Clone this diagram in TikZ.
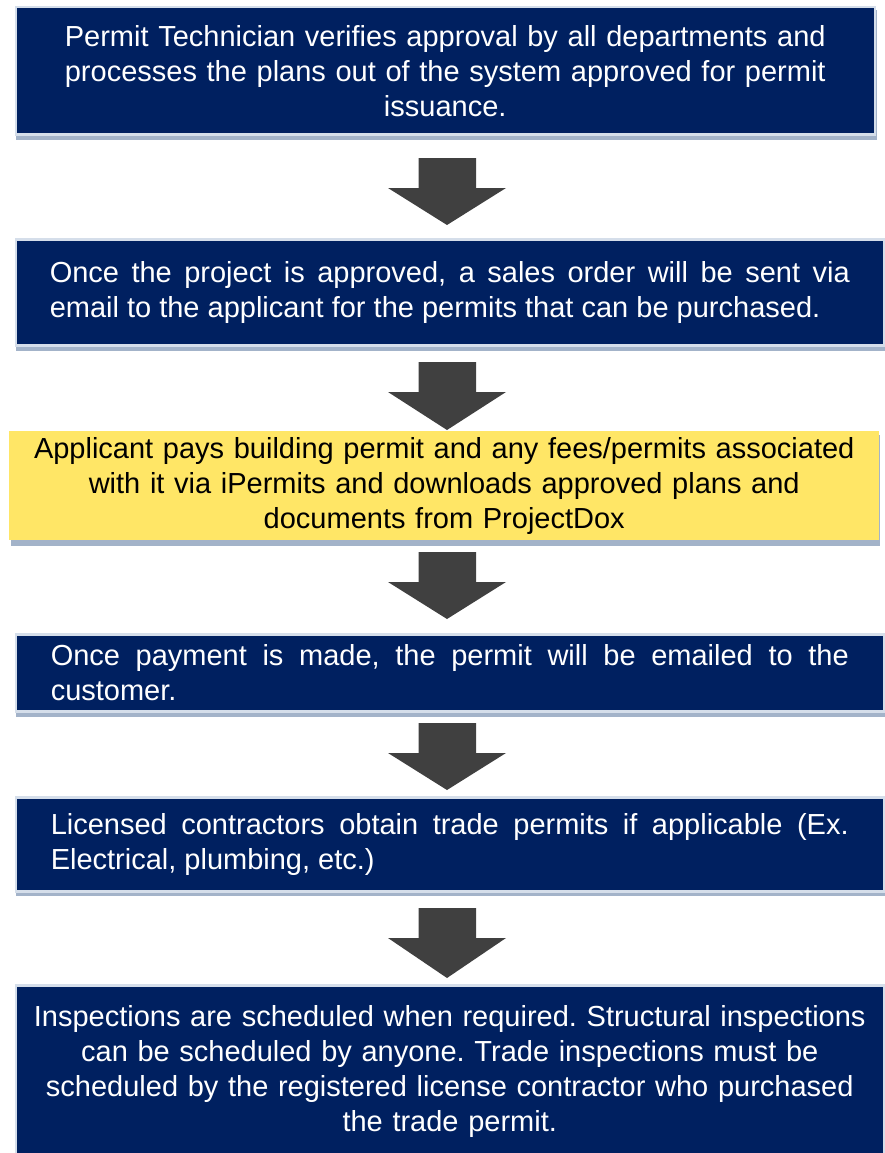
\documentclass[tikz,border=0pt]{standalone}
\usepackage{fontspec}
\setmainfont{Liberation Sans}
\usetikzlibrary{calc}
\definecolor{navy}{HTML}{002060}
\definecolor{rim}{HTML}{D5DEEA}
\definecolor{shade}{HTML}{A3B3C9}
\definecolor{yel}{HTML}{FFE666}
\definecolor{arr}{HTML}{404040}
\tikzset{
  box/.style={draw=rim, line width=2.5pt, fill=navy, text=white, inner sep=0pt, anchor=north west,
    font=\fontsize{29}{35}\selectfont\frenchspacing},
  ybox/.style={box, draw=none, fill=yel, text=black},
  shadowbox/.style={fill=shade},
  blockarrow/.style={fill=arr, draw=none},
}
\newcommand{\blockarrow}[2]{% #1 top y, #2 bottom y
  \fill[blockarrow] (418.5,#1) -- (476,#1) -- (476,#1+30) -- (506,#1+30) -- (447,#2) -- (388,#1+30) -- (418.5,#1+30) -- cycle;}
\begin{document}
\begin{tikzpicture}[x=1pt,y=-1pt]
\useasboundingbox (0,0) rectangle (885,1153);
% shadows
\fill[shadowbox] (16,10) rectangle (877,140);
\fill[shadowbox] (16,242) rectangle (886,351);
\fill[shadowbox] (11,435) rectangle (880,546);
\fill[shadowbox] (16,637) rectangle (886,717);
\fill[shadowbox] (16,800) rectangle (886,896);
% boxes
\node[box, minimum width=859, minimum height=127, text width=840, align=center] (b1) at (14.5,6)
  {Permit Technician verifies approval by all departments and\\processes the plans out of the system approved for permit\\issuance.};
\node[box, minimum width=868, minimum height=106, text width=800, align=justify] (b2) at (14.5,238)
  {Once the project is approved, a sales order will be sent via\linebreak email to the applicant for the permits that can be purchased.};
\node[ybox, minimum width=870, minimum height=109, text width=850, align=center] (b3) at (8,430)
  {Applicant pays building permit and any fees/permits associated\\with it via iPermits and downloads approved plans and\\documents from ProjectDox};
\node[box, minimum width=868, minimum height=77, text width=798, align=justify] (b4) at (14.5,633)
  {Once payment is made, the permit will be emailed to the\linebreak customer.};
\node[box, minimum width=868, minimum height=94, text width=798, align=justify] (b5) at (14.5,796)
  {Licensed contractors obtain trade permits if applicable (Ex.\linebreak Electrical, plumbing, etc.)};
\node[box, minimum width=868, minimum height=172, text width=860, align=center] (b6) at (14.5,984)
  {Inspections are scheduled when required. Structural inspections\\can be scheduled by anyone. Trade inspections must be\\scheduled by the registered license contractor who purchased\\the trade permit.};
% arrows
\blockarrow{158}{225}
\blockarrow{362}{430}
\blockarrow{552}{619}
\blockarrow{723}{790}
\blockarrow{908}{978}
\end{tikzpicture}
\end{document}
